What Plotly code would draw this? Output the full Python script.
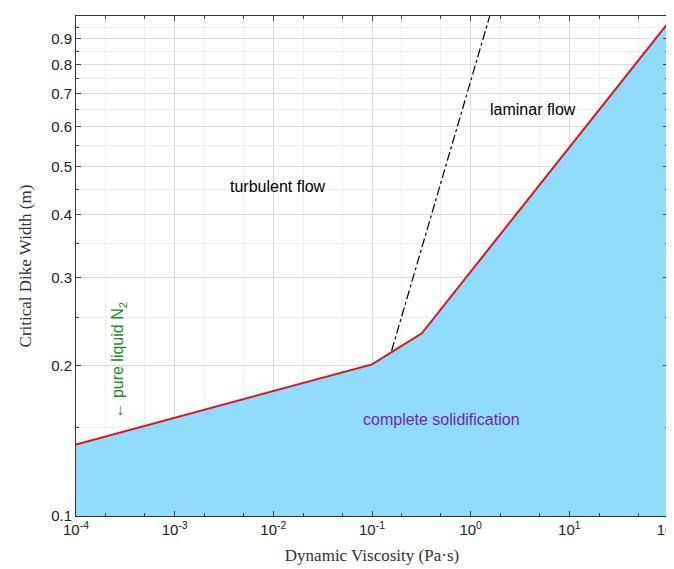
import math
import plotly.graph_objects as go

red_x = [1e-4, 0.1, 0.32, 100]
red_y = [0.139, 0.201, 0.232, 0.968]
dash_x = [0.158, 1.56]
dash_y = [0.214, 1.0]
xtick_vals = [1e-4, 1e-3, 1e-2, 1e-1, 1, 10, 100]
xtick_text = ["10<sup>-4</sup>", "10<sup>-3</sup>", "10<sup>-2</sup>", "10<sup>-1</sup>",
              "10<sup>0</sup>", "10<sup>1</sup>", "10<sup>2</sup>"]
ytick_vals = [0.1, 0.2, 0.3, 0.4, 0.5, 0.6, 0.7, 0.8, 0.9, 1]
ytick_text = ["0.1", "0.2", "0.3", "0.4", "0.5", "0.6", "0.7", "0.8", "0.9", "1"]

fig = go.Figure()
fig.add_trace(go.Scatter(x=[red_x[0], red_x[-1]], y=[0.1, 0.1], mode="lines",
                         line=dict(width=0), showlegend=False, hoverinfo="skip"))
fig.add_trace(go.Scatter(x=red_x, y=red_y, mode="lines", fill="tonexty",
                         fillcolor="rgb(143,220,251)", line=dict(color="#e0141c", width=2),
                         showlegend=False))
fig.add_trace(go.Scatter(x=dash_x, y=dash_y, mode="lines",
                         line=dict(color="black", width=1.2, dash="dashdot"), showlegend=False))

ann = [
    dict(x=-1.95, y=0.457, text="turbulent flow", color="black", angle=0),
    dict(x=0.63, y=0.65, text="laminar flow", color="black", angle=0),
    dict(x=-0.3, y=0.156, text="complete solidification", color="#7a1fa2", angle=0),
    dict(x=-3.57, y=0.205, text="← pure liquid N<sub>2</sub>", color="#1a8a1a", angle=-90),
]
for a in ann:
    fig.add_annotation(x=a["x"], y=math.log10(a["y"]), text=a["text"],
                       showarrow=False, textangle=a["angle"],
                       font=dict(family="Liberation Sans", size=16, color=a["color"]))

axis_common = dict(type="log", showline=True, linecolor="#333", linewidth=1, mirror="ticks",
                   ticks="inside", ticklen=5, gridcolor="#dcdcdc", zeroline=False,
                   automargin=False,
                   tickfont=dict(family="Liberation Sans", size=15, color="#222"))
fig.update_xaxes(range=[-4, 2], tickvals=xtick_vals, ticktext=xtick_text,
                 minor=dict(ticks="inside", ticklen=3, showgrid=True, gridcolor="#eeeeee"),
                 title=dict(text="Dynamic Viscosity (Pa·s)", standoff=12,
                            font=dict(family="Liberation Serif", size=17, color="#333")),
                 **axis_common)
fig.update_yaxes(range=[-1, 0], tickvals=ytick_vals, ticktext=ytick_text,
                 minor=dict(ticks="inside", ticklen=3, showgrid=True, gridcolor="#eeeeee",
                            tickvals=[0.15, 0.25, 0.35, 0.45, 0.55, 0.65, 0.75, 0.85, 0.95]),
                 title=dict(text="Critical Dike Width (m)",
                            font=dict(family="Liberation Serif", size=17, color="#333")),
                 **axis_common)
fig.update_layout(width=674, height=569, plot_bgcolor="white", paper_bgcolor="white",
                  margin=dict(l=68, r=14, t=8, b=61))
fig.write_html("out.html")
